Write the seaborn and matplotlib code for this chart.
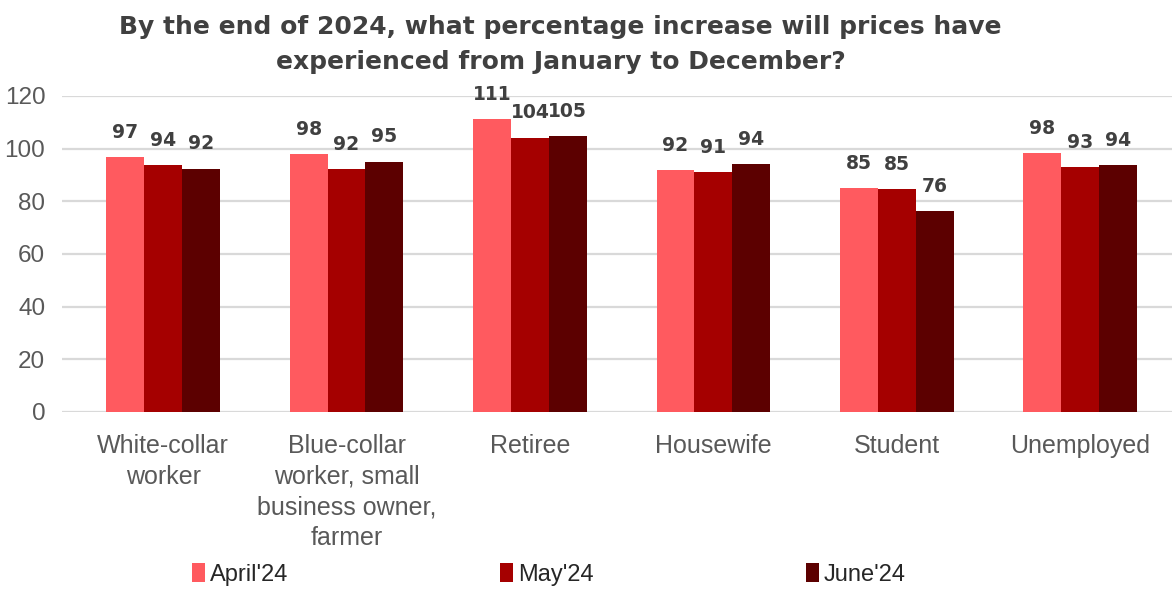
import pandas as pd
import matplotlib
matplotlib.use("Agg")
import matplotlib.pyplot as plt
import seaborn as sns
from matplotlib.patches import Patch

categories = ["White-collar\nworker", "Blue-collar\nworker, small\nbusiness owner,\nfarmer",
              "Retiree", "Housewife", "Student", "Unemployed"]
months = ["April'24", "May'24", "June'24"]
april = [96.9, 98.0, 111.3, 91.8, 85.1, 98.4]
may = [93.7, 92.2, 104.2, 91.0, 84.7, 93.0]
june = [92.4, 95.1, 104.8, 94.1, 76.4, 93.7]
colors = ["#FF5A5F", "#A50000", "#5C0000"]

df = pd.DataFrame({
    "cat": categories * 3,
    "month": [months[0]] * 6 + [months[1]] * 6 + [months[2]] * 6,
    "value": april + may + june,
})

sns.set_style("white")
plt.rcParams["font.family"] = ["Liberation Sans", "DejaVu Sans"]

fig = plt.figure(figsize=(11.73, 5.91), dpi=100)
ax = fig.add_axes([62 / 1173, 1 - 412 / 591, (1172 - 62) / 1173, (412 - 96) / 591])

sns.barplot(data=df, x="cat", y="value", hue="month", palette=colors,
            width=0.62, gap=0, dodge=True, ax=ax, legend=False,
            edgecolor="none", saturation=1)

for cont in ax.containers:
    ax.bar_label(cont, labels=[f"{v:.0f}" for v in cont.datavalues], padding=11,
                 fontsize=13.5, fontweight="bold", color="#404040",
                 family=["DejaVu Sans"])

ax.set_ylim(0, 120)
ax.set_xlim(-0.551, 5.5)
ax.set_yticks(range(0, 121, 20))
ax.yaxis.grid(True, color="#D9D9D9", linewidth=1.6)
ax.set_axisbelow(True)
for s in ax.spines.values():
    s.set_visible(False)
ax.tick_params(axis="y", length=0, labelsize=17.5, labelcolor="#595959", pad=12)
ax.tick_params(axis="x", length=0, labelsize=18, labelcolor="#595959", pad=16)
for t in ax.get_xticklabels():
    t.set_linespacing(1.35)
ax.set_xlabel("")
ax.set_ylabel("")

title = fig.text(0.478, 0.975,
                 "By the end of 2024, what percentage increase will prices have\nexperienced from January to December?",
                 ha="center", va="top", fontsize=18, fontweight="bold", color="#404040",
                 family=["DejaVu Sans"])
title.set_linespacing(1.6)

handles = [Patch(facecolor=c, edgecolor="none") for c in colors]
fig.legend(handles, months, loc="center", bbox_to_anchor=(0.468, 0.028), ncol=3,
           frameon=False, handlelength=0.55, handleheight=0.85, handletextpad=0.2,
           columnspacing=9.0, prop={"family": ["Liberation Sans", "DejaVu Sans"], "size": 17})

fig.savefig("out.png", dpi=100)
